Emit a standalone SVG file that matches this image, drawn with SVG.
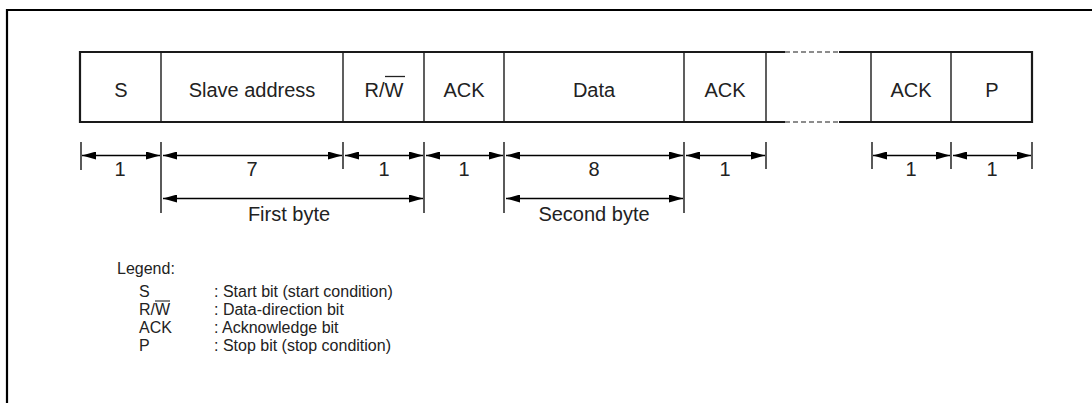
<svg xmlns="http://www.w3.org/2000/svg" width="1092" height="403" viewBox="0 0 1092 403">
<defs>
<style>
text{font-family:"Liberation Sans",Arial,sans-serif;font-size:20px;fill:#222;}
.c{text-anchor:middle;}
.lg{font-size:16px;}
.box{fill:none;stroke:#1a1a1a;stroke-width:2.2;}
.div{stroke:#1a1a1a;stroke-width:1.4;}
.dim{stroke:#000;stroke-width:1.3;fill:none;}
.tick{stroke:#000;stroke-width:1.3;}
.dash{stroke:#1a1a1a;stroke-width:1.2;stroke-dasharray:5 3;}
</style>
<marker id="ah" viewBox="0 0 14 8" refX="14" refY="4" markerWidth="14" markerHeight="8" markerUnits="userSpaceOnUse" orient="auto-start-reverse">
<path d="M0,0 L14,4 L0,8 Z" fill="#000"/>
</marker>
</defs>
<rect width="1092" height="403" fill="#fff"/>
<g id="frame"><path d="M7,403 V10 H1092" fill="none" stroke="#000" stroke-width="2.2"/></g>
<g id="box">
<path class="box" d="M785,52 H80 V122 H785"/>
<path class="box" d="M839,52 H1032 V122 H839"/>
<line class="dash" x1="785" y1="52" x2="839" y2="52"/>
<line class="dash" x1="785" y1="122" x2="839" y2="122"/>
</g>
<g id="dividers">
<line class="div" x1="161" y1="52" x2="161" y2="122"/>
<line class="div" x1="343" y1="52" x2="343" y2="122"/>
<line class="div" x1="424" y1="52" x2="424" y2="122"/>
<line class="div" x1="504" y1="52" x2="504" y2="122"/>
<line class="div" x1="684" y1="52" x2="684" y2="122"/>
<line class="div" x1="766" y1="52" x2="766" y2="122"/>
<line class="div" x1="871" y1="52" x2="871" y2="122"/>
<line class="div" x1="951" y1="52" x2="951" y2="122"/>
</g>
<g id="field-S"><text class="c" x="121" y="97">S</text></g>
<g id="field-slave"><text class="c" x="252" y="97">Slave address</text></g>
<g id="field-rw"><text class="c" x="384" y="97">R/W</text><line x1="385" y1="76.5" x2="405" y2="76.5" stroke="#222" stroke-width="1.3"/></g>
<g id="field-ack1"><text class="c" x="464" y="97">ACK</text></g>
<g id="field-data"><text class="c" x="594" y="97">Data</text></g>
<g id="field-ack2"><text class="c" x="725" y="97">ACK</text></g>
<g id="field-ack3"><text class="c" x="911" y="97">ACK</text></g>
<g id="field-P"><text class="c" x="992" y="97">P</text></g>
<g id="connectors">
<line class="tick" x1="81" y1="142" x2="81" y2="170"/>
<line class="tick" x1="161" y1="142" x2="161" y2="213"/>
<line class="tick" x1="343" y1="142" x2="343" y2="169"/>
<line class="tick" x1="424" y1="142" x2="424" y2="213"/>
<line class="tick" x1="504" y1="142" x2="504" y2="213"/>
<line class="tick" x1="684" y1="142" x2="684" y2="213"/>
<line class="tick" x1="766" y1="142" x2="766" y2="169"/>
<line class="tick" x1="872" y1="142" x2="872" y2="169"/>
<line class="tick" x1="951" y1="142" x2="951" y2="169"/>
<line class="tick" x1="1032" y1="142" x2="1032" y2="169"/>
<line class="dim" x1="82" y1="155.5" x2="160" y2="155.5" marker-start="url(#ah)" marker-end="url(#ah)"/>
<line class="dim" x1="163" y1="155.5" x2="342" y2="155.5" marker-start="url(#ah)" marker-end="url(#ah)"/>
<line class="dim" x1="345" y1="155.5" x2="423" y2="155.5" marker-start="url(#ah)" marker-end="url(#ah)"/>
<line class="dim" x1="426" y1="155.5" x2="503" y2="155.5" marker-start="url(#ah)" marker-end="url(#ah)"/>
<line class="dim" x1="506" y1="155.5" x2="683" y2="155.5" marker-start="url(#ah)" marker-end="url(#ah)"/>
<line class="dim" x1="686" y1="155.5" x2="765" y2="155.5" marker-start="url(#ah)" marker-end="url(#ah)"/>
<line class="dim" x1="873" y1="155.5" x2="950" y2="155.5" marker-start="url(#ah)" marker-end="url(#ah)"/>
<line class="dim" x1="953" y1="155.5" x2="1031" y2="155.5" marker-start="url(#ah)" marker-end="url(#ah)"/>
<line class="dim" x1="163" y1="198.5" x2="423" y2="198.5" marker-start="url(#ah)" marker-end="url(#ah)"/>
<line class="dim" x1="506" y1="198.5" x2="683" y2="198.5" marker-start="url(#ah)" marker-end="url(#ah)"/>
</g>
<g id="dim-labels">
<text class="c" x="120" y="176">1</text>
<text class="c" x="252" y="176">7</text>
<text class="c" x="384" y="176">1</text>
<text class="c" x="464" y="176">1</text>
<text class="c" x="594" y="176">8</text>
<text class="c" x="725" y="176">1</text>
<text class="c" x="911" y="176">1</text>
<text class="c" x="992" y="176">1</text>
<text class="c" x="289" y="221">First byte</text>
<text class="c" x="594" y="221">Second byte</text>
</g>
<g id="legend">
<text class="lg" x="117" y="274">Legend:</text>
<text class="lg" x="139" y="297">S</text><text class="lg" x="214" y="297">: Start bit (start condition)</text>
<text class="lg" x="139" y="315">R/W</text><line x1="155" y1="301" x2="170" y2="301" stroke="#222" stroke-width="1.1"/><text class="lg" x="214" y="315">: Data-direction bit</text>
<text class="lg" x="139" y="333">ACK</text><text class="lg" x="214" y="333">: Acknowledge bit</text>
<text class="lg" x="139" y="351">P</text><text class="lg" x="214" y="351">: Stop bit (stop condition)</text>
</g>
</svg>
